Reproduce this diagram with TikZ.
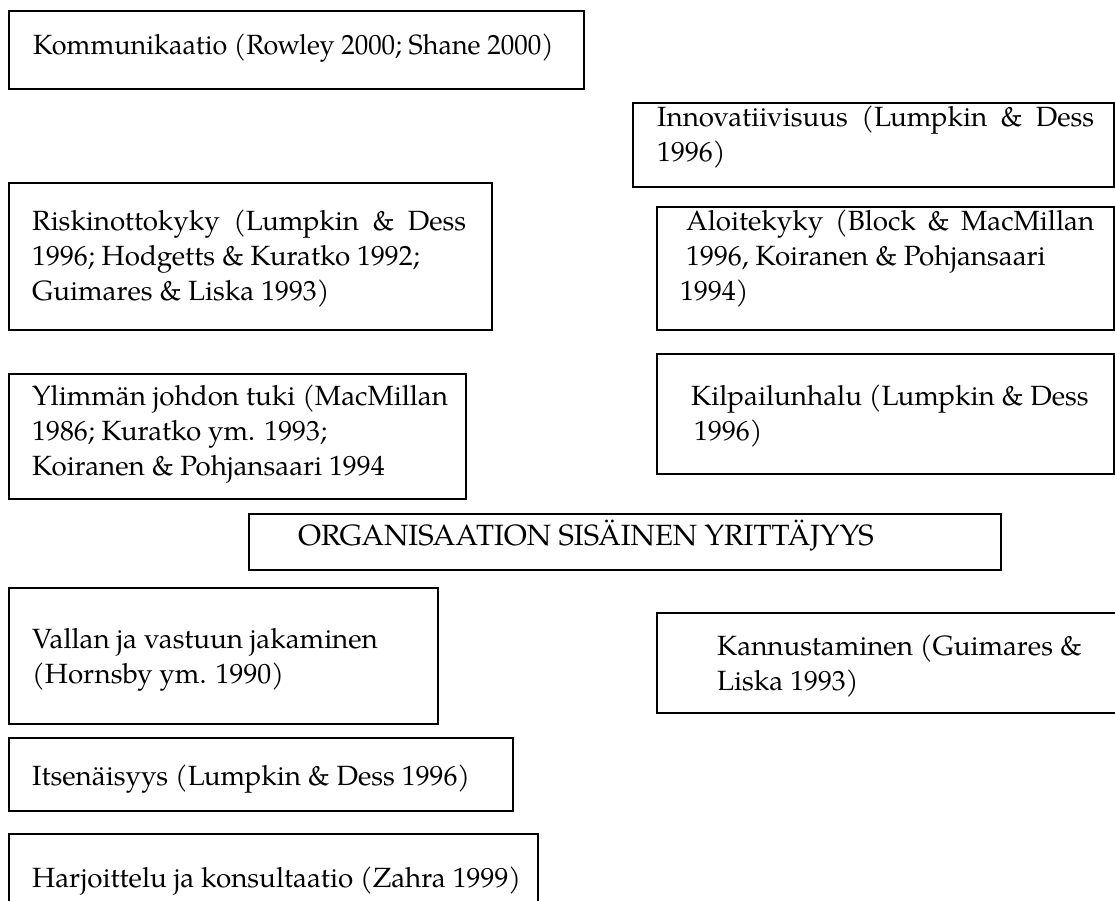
\documentclass[tikz,border=0pt]{standalone}
\usepackage{fontspec}
\setmainfont{TeX Gyre Pagella}
\begin{document}
\begin{tikzpicture}[x=1pt,y=-1pt,
  box/.style={draw=black, line width=2pt, rectangle, inner sep=0pt, anchor=north west},
  txt/.style={anchor=base west, inner sep=0pt, align=left,
              font=\fontsize{27.8}{35}\selectfont}]
\useasboundingbox (0,0) rectangle (1115,901);

% frames
\node[box, minimum width=575pt, minimum height=78pt]  (kom)  at (8,10)   {};
\node[box, minimum width=481pt, minimum height=84pt]  (inn)  at (632,102) {};
\node[box, minimum width=483pt, minimum height=147pt] (ris)  at (8,182)  {};
\node[box, minimum width=457pt, minimum height=123pt] (alo)  at (656,206) {};
\node[box, minimum width=457pt, minimum height=125pt] (yli)  at (8,373)  {};
\node[box, minimum width=457pt, minimum height=120pt] (kil)  at (656,353) {};
\node[box, minimum width=752pt, minimum height=56pt]  (org)  at (248,513) {};
\node[box, minimum width=429pt, minimum height=136pt] (val)  at (8,587)  {};
\node[box, minimum width=470pt, minimum height=100pt] (kan)  at (656,612) {};
\node[box, minimum width=504pt, minimum height=73pt]  (its)  at (8,737)  {};
\node[box, minimum width=529pt, minimum height=100pt] (har)  at (8,833)  {};

% labels (each node sits on the baseline of its last line)
\node[txt] (tkom) at (33,55) {\scalebox{0.97}[1]{Kommunikaatio (Rowley 2000; Shane 2000)}};
\node[txt] (tinn) at (657,162) {\makebox[437pt][s]{Innovatiivisuus (Lumpkin \& Dess}\\1996)};
\node[txt] (tris) at (32,300) {\makebox[434pt][s]{Riskinottokyky (Lumpkin \& Dess}\\1996; Hodgetts \& Kuratko 1992;\\Guimares \& Liska 1993)};
\node[txt] (talo) at (680,300) {\hspace*{6pt}\makebox[408pt][s]{Aloitekyky (Block \& MacMillan}\\\hspace*{6pt}1996, Koiranen \& Pohjansaari\\1994)};
\node[txt] (tyli) at (32,475) {Ylimmän johdon tuki (MacMillan\\1986; Kuratko ym. 1993;\\Koiranen \& Pohjansaari 1994};
\node[txt] (tkil) at (691,440) {Kilpailunhalu (Lumpkin \& Dess\\\hspace*{3pt}1996)};
\node[txt, font=\fontsize{29.3}{35}\selectfont] (torg) at (298,545) {ORGANISAATION SISÄINEN YRITTÄJYYS};
\node[txt] (tval) at (32,683) {Vallan ja vastuun jakaminen\\(Hornsby ym. 1990)};
\node[txt] (tkan) at (717,690) {Kannustaminen (Guimares \&\\Liska 1993)};
\node[txt] (tits) at (32,785) {Itsenäisyys (Lumpkin \& Dess 1996)};
\node[txt] (thar) at (32,887) {Harjoittelu ja konsultaatio (Zahra 1999)};
\end{tikzpicture}
\end{document}
